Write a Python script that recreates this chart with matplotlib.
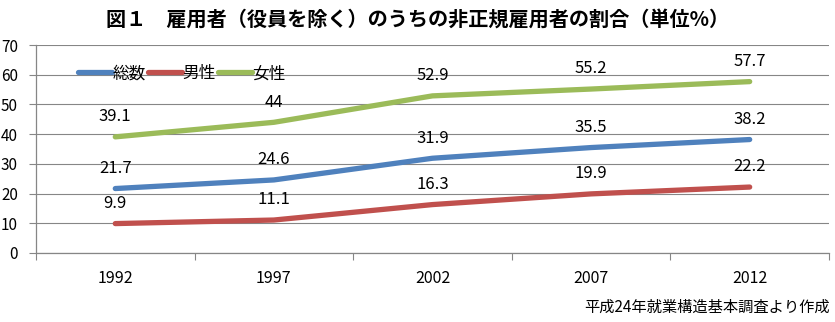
import matplotlib

matplotlib.use("Agg")
import matplotlib.pyplot as plt
import numpy as np

plt.rcParams["font.family"] = ["Noto Sans CJK JP", "DejaVu Sans"]

YEARS = ["1992", "1997", "2002", "2007", "2012"]
TOTAL = [21.7, 24.6, 31.9, 35.5, 38.2]
MALE = [9.9, 11.1, 16.3, 19.9, 22.2]
FEMALE = [39.1, 44, 52.9, 55.2, 57.7]
LABEL_TEXT = {
    "総数": ["21.7", "24.6", "31.9", "35.5", "38.2"],
    "男性": ["9.9", "11.1", "16.3", "19.9", "22.2"],
    "女性": ["39.1", "44", "52.9", "55.2", "57.7"],
}

SERIES = [("総数", TOTAL, "#4F81BD"), ("男性", MALE, "#C0504D"), ("女性", FEMALE, "#9BBB59")]
GRID = "#868686"

fig = plt.figure(figsize=(8.35, 3.22), dpi=100)
ax = fig.add_axes([0.0431, 0.2143, 0.9497, 0.6457])

x = np.arange(len(YEARS))
for name, vals, color in SERIES:
    ax.plot(x, vals, color=color, lw=3.8, solid_capstyle="round",
            solid_joinstyle="round", label=name, zorder=3)
    for xi, v, t in zip(x, vals, LABEL_TEXT[name]):
        ax.annotate(t, (xi, v), xytext=(0, 14.5), textcoords="offset points",
                    ha="center", va="center", fontsize=12, color="black")

ax.set_xlim(-0.5, len(YEARS) - 0.5)
ax.set_ylim(0, 70)
ax.set_yticks(range(0, 71, 10))
ax.yaxis.grid(True, color=GRID, lw=0.8)
ax.set_axisbelow(True)

ax.set_xticks(np.arange(-0.5, len(YEARS), 1.0))
ax.set_xticklabels([])
ax.set_xticks(x, minor=True)
ax.set_xticklabels(YEARS, minor=True)
ax.tick_params(axis="x", which="major", length=5, color=GRID, direction="out")
ax.tick_params(axis="x", which="minor", length=0, pad=12, labelsize=11.5)
ax.tick_params(axis="y", length=5, color=GRID, pad=8, labelsize=11)

for side in ("top", "right"):
    ax.spines[side].set_visible(False)
for side in ("left", "bottom"):
    ax.spines[side].set_color(GRID)
    ax.spines[side].set_linewidth(0.9)

ax.legend(loc="upper left", bbox_to_anchor=(0.045, 0.935), ncol=3, frameon=False,
          handlelength=2.0, handletextpad=0.05, columnspacing=0.15,
          fontsize=12, borderaxespad=0)

fig.text(0.5, 0.94, "図１　雇用者（役員を除く）のうちの非正規雇用者の割合（単位%）",
         ha="center", va="center", fontsize=14.5, fontweight="bold")
fig.text(0.994, 0.045, "平成24年就業構造基本調査より作成", ha="right", va="center",
         fontsize=11)

fig.savefig("out.png", dpi=100, facecolor="white")
